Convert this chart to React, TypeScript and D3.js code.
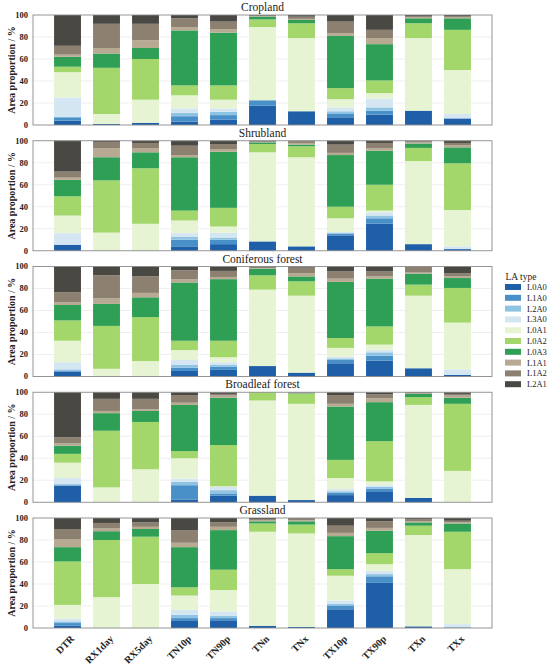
import React from "react";
import * as d3 from "d3";

const categories = ["DTR", "RX1day", "RX5day", "TN10p", "TN90p", "TNn", "TNx", "TX10p", "TX90p", "TXn", "TXx"];
const laTypes = ["L0A0", "L1A0", "L2A0", "L3A0", "L0A1", "L0A2", "L0A3", "L1A1", "L1A2", "L2A1"];
const laColors = ["#1f5fa8", "#4a90c8", "#8fc3e3", "#d4e6f2", "#e6f4d4", "#a3d66b", "#2f9f55", "#b8a992", "#8c8070", "#4a4843"];
const landCovers = ["Cropland", "Shrubland", "Coniferous forest", "Broadleaf forest", "Grassland"];
const yTicks = [0, 20, 40, 60, 80, 100];

// rows: one per category, values per LA type (bottom to top)
const cropland = [
  [4, 3, 0.5, 17.5, 23, 5, 9, 2, 8, 28],
  [1, 0, 0, 0, 9, 42, 13, 5, 22, 8],
  [2, 0, 0, 0, 21, 37, 10, 7, 15, 8],
  [3, 5, 3, 4, 12, 9, 50, 3, 8, 3],
  [5, 4, 3, 3, 8, 13, 48, 3, 7, 6],
  [17.5, 5, 0, 0, 66.5, 7, 2.5, 0.5, 0.5, 0.5],
  [12.5, 0, 0, 0, 66.5, 13.5, 3, 1, 2, 1.5],
  [7, 3, 2.5, 3.5, 7.5, 10, 47.5, 2.5, 10.5, 6],
  [9.5, 3.5, 3, 8, 5, 11.5, 33, 5.5, 7.5, 13.5],
  [13, 0, 0, 0, 66, 13.5, 4.5, 1, 1, 1],
  [6, 0, 0, 4, 40, 36.5, 10.5, 1, 1, 1],
];
const shrubland = [
  [5.5, 0, 0, 10.5, 16, 17.5, 15, 2, 5.5, 28],
  [0, 0, 0, 0, 16.5, 47.5, 21, 8, 6, 1],
  [0, 0, 0, 0, 24.5, 50.5, 14.5, 3.5, 5, 2],
  [4, 6, 2.5, 3.5, 11.5, 9, 48.5, 2, 8.5, 4.5],
  [6, 4, 2, 4.5, 5.5, 17, 51, 2.5, 4.5, 3],
  [8.5, 0, 0, 0, 81, 7.5, 1.5, 0.5, 0.5, 0.5],
  [4, 0, 0, 0, 81, 10, 1.5, 1.5, 1.5, 0.5],
  [14, 1.5, 1, 0.5, 12.5, 10.5, 47, 2, 7.5, 3.5],
  [24.5, 5, 2.5, 3, 1.5, 23.5, 31, 2, 5, 2],
  [6, 0, 0, 0, 75.5, 12, 4, 1, 1, 0.5],
  [1.5, 0, 0, 2.5, 33, 42.5, 14.5, 2, 2, 2],
];
const coniferous = [
  [4.5, 1, 1, 6.5, 19.5, 18.5, 14, 2.5, 9, 23.5],
  [0, 0, 0, 0, 7, 39, 20, 5, 21, 8],
  [0, 0, 0, 0, 14, 40, 18, 4, 15, 9],
  [5, 3, 2.5, 4.5, 9, 8.5, 53, 3, 8, 3.5],
  [6, 3, 1.5, 2.5, 4.5, 15, 56, 2, 5.5, 4],
  [9.5, 0, 0, 0, 69.5, 13, 6, 0.5, 1, 0.5],
  [3.5, 0, 0, 0, 70, 13, 4.5, 3, 5, 1],
  [12, 3, 1.5, 1.5, 8, 9, 51, 3, 6.5, 4.5],
  [14.5, 4.5, 3, 2, 5, 16.5, 43.5, 2, 4.5, 4.5],
  [7.5, 0, 0, 0, 66, 10, 10, 1, 5.5, 0],
  [1.5, 0, 0, 5, 42.5, 31.5, 9, 1.5, 3, 6],
];
const broadleaf = [
  [15, 0.5, 1, 5.5, 14, 8, 7.5, 2, 5.5, 41],
  [0, 0, 0, 0, 13.5, 51.5, 16, 2, 11, 6],
  [0, 0, 0, 0, 30, 43, 10, 1.5, 9.5, 6],
  [2.5, 13, 3, 3, 18.5, 6.5, 42, 2, 7, 2.5],
  [6, 2, 3, 3, 0.5, 37.5, 43, 2, 1.5, 1.5],
  [6, 0, 0, 0, 86.5, 7.5, 0, 0, 0, 0],
  [2, 0, 0, 0, 87.5, 9, 0.5, 0.5, 0.5, 0],
  [6.5, 2, 1.5, 2, 10, 16.5, 48.5, 2.5, 8, 2.5],
  [10, 2.5, 1.5, 1.5, 3.5, 36.5, 35.5, 3.5, 3.5, 2],
  [4, 0, 0, 0, 84.5, 7, 3, 0.5, 0.5, 0.5],
  [0, 0, 0, 0, 28.5, 61, 5.5, 2, 1.5, 1.5],
];
const grassland = [
  [2, 2.5, 1.5, 2.5, 12.5, 39.5, 13, 7, 9.5, 10],
  [0, 0, 0, 0, 28, 52, 8, 2.5, 5, 4.5],
  [0, 0, 0, 0, 40, 43, 7, 2, 4, 4],
  [7, 2, 3, 4.5, 13, 7.5, 36.5, 4, 11.5, 11],
  [7, 2, 2, 4, 19.5, 18.5, 36, 3, 4, 4],
  [2, 0, 0, 0, 85.5, 7.5, 2, 1, 1, 1],
  [1, 0, 0, 0, 85, 8, 3, 1, 1.5, 0.5],
  [17, 3, 2, 3, 22.5, 6, 30, 3, 6.5, 7],
  [41, 6, 2, 3, 6, 10, 20.5, 2.5, 6, 3],
  [1.5, 0, 0, 0, 83, 8.5, 3, 1, 2, 1],
  [0.5, 0, 0, 3, 50, 34, 7.5, 1, 1.5, 2.5],
];
const panelData = [cropland, shrubland, coniferous, broadleaf, grassland];

const SERIF = "'Liberation Serif', 'Times New Roman', serif";
const W = 550;
const H = 670;
const plotLeft = 33;
const plotRight = 492;
const firstTop = 15;
const panelStep = 125.75;
const panelH = 110;

function Panel({ idx }: { idx: number }) {
  const top = firstTop + idx * panelStep;
  const bottom = top + panelH;
  const x = d3.scaleBand<string>().domain(categories).range([plotLeft, plotRight]).paddingInner(0.31).paddingOuter(0.54);
  const y = d3.scaleLinear().domain([0, 100]).range([bottom, top]);
  const rows = panelData[idx].map((vals, i) => {
    const sum = d3.sum(vals);
    const o: any = { cat: categories[i] };
    laTypes.forEach((t, j) => (o[t] = (vals[j] / sum) * 100));
    return o;
  });
  const series = d3.stack<any>().keys(laTypes)(rows);
  return (
    <g>
      {yTicks.filter((t) => t > 0 && t < 100).map((t) => (
        <line key={"g" + t} x1={plotLeft} x2={plotRight} y1={y(t)} y2={y(t)} stroke="#e4e4e4" strokeWidth={0.6} />
      ))}
      {series.map((s, si) => (
        <g key={s.key} fill={laColors[si]}>
          {s.map((d: any) => {
            const h = y(d[0]) - y(d[1]);
            if (h <= 0) return null;
            return <rect key={d.data.cat} x={x(d.data.cat)} y={y(d[1])} width={x.bandwidth()} height={h} />;
          })}
        </g>
      ))}
      <rect x={plotLeft} y={top} width={plotRight - plotLeft} height={panelH} fill="none" stroke="#8a8a8a" strokeWidth={0.9} />
      {yTicks.map((t) => (
        <text key={"t" + t} x={plotLeft - 5} y={y(t)} dy="0.35em" textAnchor="end" fontFamily={SERIF} fontWeight="bold" fontSize={8.5} fill="#222">
          {t}
        </text>
      ))}
      <text
        transform={`translate(11,${(top + bottom) / 2}) rotate(-90)`}
        textAnchor="middle"
        dy="0.35em"
        fontFamily={SERIF}
        fontWeight="bold"
        fontSize={10}
        fill="#222"
      >
        Area proportion / %
      </text>
      <text x={(plotLeft + plotRight) / 2} y={top - 4} textAnchor="middle" fontFamily={SERIF} fontSize={11.5} fill="#222">
        {landCovers[idx]}
      </text>
    </g>
  );
}

export default function App() {
  const lastBottom = firstTop + 4 * panelStep + panelH;
  const x = d3.scaleBand<string>().domain(categories).range([plotLeft, plotRight]).paddingInner(0.31).paddingOuter(0.54);
  return (
    <svg width={W} height={H} style={{ position: "absolute", left: 0, top: 0, background: "#fff" }}>
      <rect width={W} height={H} fill="#fff" />
      {landCovers.map((_, i) => (
        <Panel key={i} idx={i} />
      ))}
      {categories.map((c) => {
        const cx = (x(c) as number) + x.bandwidth() / 2 + 5;
        const cy = lastBottom + 9;
        return (
          <text key={c} transform={`translate(${cx},${cy}) rotate(-45)`} textAnchor="end" dy="0.35em" fontFamily={SERIF} fontWeight="bold" fontSize={10} fill="#222">
            {c}
          </text>
        );
      })}
      <g>
        <text x={521} y={280} textAnchor="middle" fontFamily={SERIF} fontSize={9.5} fill="#222">
          LA type
        </text>
        {laTypes.map((t, i) => (
          <g key={t} transform={`translate(0,${287 + i * 10.8})`}>
            <rect x={505} y={-3} width={16} height={6} fill={laColors[i]} />
            <text x={527} y={0} dy="0.35em" fontFamily={SERIF} fontSize={8.5} fill="#222">
              {t}
            </text>
          </g>
        ))}
      </g>
    </svg>
  );
}
